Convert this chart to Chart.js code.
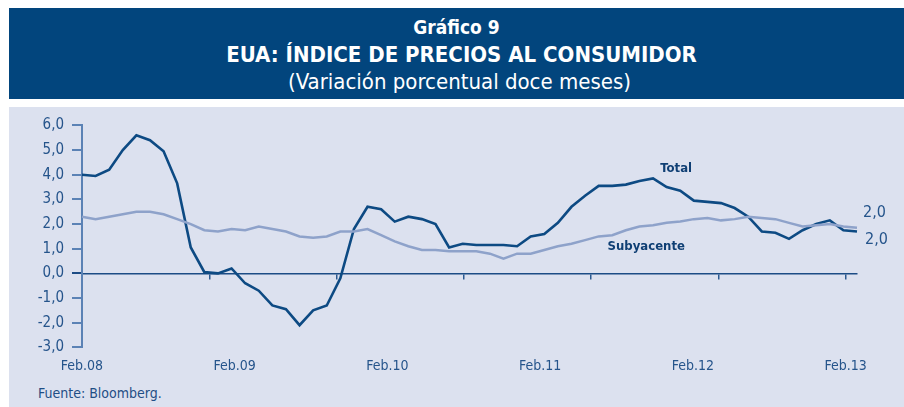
<!DOCTYPE html>
<html>
<head>
<meta charset="utf-8">
<script src="https://cdn.jsdelivr.net/npm/chart.js@4"></script>
<style>
  body { margin: 0; background: #fff; width: 904px; height: 407px; overflow: hidden; position: relative; }
  #head {
    position: absolute; left: 9px; top: 8px; width: 895px; height: 91px;
    background: #02457d; color: #fff; text-align: center;
    font-family: 'Liberation Sans Narrow', 'DejaVu Sans Condensed', sans-serif;
  }
  #head div { position: absolute; left: 0; right: 0; }
  #t1 { top: 8px; font-size: 19px; font-weight: bold; }
  #t2 { top: 34px; left: 10px !important; font-size: 22px; font-weight: bold; }
  #t3 { top: 61px; left: 6px !important; font-size: 22px; }
  #panel { position: absolute; left: 9px; top: 107px; width: 895px; height: 300px; background: #dce1ef; }
  #chartBox { position: absolute; left: 0; top: 0; width: 895px; height: 275px; }
  #src {
    position: absolute; left: 29px; top: 278px; color: #1f4e85; font-size: 14px;
    font-family: 'DejaVu Sans Condensed', sans-serif;
  }
</style>
</head>
<body>
<div id="head">
  <div id="t1">Gráfico 9</div>
  <div id="t2">EUA: ÍNDICE DE PRECIOS AL CONSUMIDOR</div>
  <div id="t3">(Variación porcentual doce meses)</div>
</div>
<div id="panel">
  <div id="chartBox"><canvas id="chart"></canvas></div>
  <div id="src">Fuente: Bloomberg.</div>
</div>
<script>
// months Mar.08 .. Dec.12
const months = [
  'Mar.08','Abr.08','May.08','Jun.08','Jul.08','Ago.08','Sep.08','Oct.08','Nov.08','Dic.08',
  'Ene.09','Feb.09','Mar.09','Abr.09','May.09','Jun.09','Jul.09','Ago.09','Sep.09','Oct.09','Nov.09','Dic.09',
  'Ene.10','Feb.10','Mar.10','Abr.10','May.10','Jun.10','Jul.10','Ago.10','Sep.10','Oct.10','Nov.10','Dic.10',
  'Ene.11','Feb.11','Mar.11','Abr.11','May.11','Jun.11','Jul.11','Ago.11','Sep.11','Oct.11','Nov.11','Dic.11',
  'Ene.12','Feb.12','Mar.12','Abr.12','May.12','Jun.12','Jul.12','Ago.12','Sep.12','Oct.12','Nov.12','Dic.12'
];

const totalValues = [
  4.0, 3.95, 4.2, 5.0, 5.6, 5.4, 4.95, 3.65, 1.05, 0.05,
  0.0, 0.2, -0.4, -0.7, -1.3, -1.45, -2.1, -1.5, -1.3, -0.2, 1.8, 2.7,
  2.6, 2.1, 2.3, 2.2, 2.0, 1.05, 1.2, 1.15, 1.15, 1.15, 1.1, 1.5,
  1.6, 2.05, 2.7, 3.15, 3.55, 3.55, 3.6, 3.75, 3.85, 3.5, 3.35, 2.95,
  2.9, 2.85, 2.65, 2.3, 1.7, 1.65, 1.4, 1.75, 2.0, 2.15, 1.75, 1.7
];

const coreValues = [
  2.3, 2.2, 2.3, 2.4, 2.5, 2.5, 2.4, 2.2, 2.0, 1.75,
  1.7, 1.8, 1.75, 1.9, 1.8, 1.7, 1.5, 1.45, 1.5, 1.7, 1.7, 1.8,
  1.55, 1.3, 1.1, 0.95, 0.95, 0.9, 0.9, 0.9, 0.8, 0.6, 0.8, 0.8,
  0.95, 1.1, 1.2, 1.35, 1.5, 1.55, 1.75, 1.9, 1.95, 2.05, 2.1, 2.2,
  2.25, 2.15, 2.2, 2.3, 2.25, 2.2, 2.05, 1.9, 1.95, 2.0, 1.9, 1.85
];

// bottom labels, one per 12 units of the label axis
const xTickLabels = ['Feb.08', 'Feb.09', 'Feb.10', 'Feb.11', 'Feb.12', 'Feb.13'];
const endLabels = ['2,0', '2,0'];

const dark = '#0d4a83';
const light = '#8ea2ca';
const textBlue = '#25548b';
const axisBlue = '#5b82b5';
const condensed = "'Liberation Sans Narrow', 'DejaVu Sans Condensed', sans-serif";
const labelMax = 60.9;

const notes = {
  id: 'notes',
  afterDatasetsDraw(chart) {
    const { ctx, chartArea } = chart;
    const x = chart.scales.x, y = chart.scales.y;
    ctx.save();
    ctx.fillStyle = '#0f3f74';
    ctx.font = "bold 13px 'DejaVu Sans Condensed', sans-serif";
    ctx.textAlign = 'center';
    ctx.textBaseline = 'middle';
    ctx.fillText('Total', x.getPixelForValue(43.7), y.getPixelForValue(4.26));
    ctx.fillText('Subyacente', x.getPixelForValue(41.5), y.getPixelForValue(1.07));
    ctx.fillStyle = textBlue;
    ctx.font = '16px ' + condensed;
    ctx.textAlign = 'left';
    ctx.fillText(endLabels[0], chartArea.right + 6, y.getPixelForValue(2.44));
    ctx.fillText(endLabels[1], chartArea.right + 8, y.getPixelForValue(1.35));
    ctx.restore();
  }
};

new Chart(document.getElementById('chart'), {
  type: 'line',
  data: {
    labels: months,
    datasets: [
      { label: 'Subyacente', data: coreValues, borderColor: light, borderWidth: 2.5, pointRadius: 0, tension: 0 },
      { label: 'Total', data: totalValues, borderColor: dark, borderWidth: 2.6, pointRadius: 0, tension: 0 }
    ]
  },
  options: {
    responsive: true,
    maintainAspectRatio: false,
    animation: false,
    layout: { padding: { left: 0, right: 47, top: 18.4, bottom: 0 } },
    plugins: { legend: { display: false }, tooltip: { enabled: false } },
    scales: {
      x: { type: 'category', display: false, offset: false },
      x2: {
        type: 'linear', position: 'bottom', min: 0, max: labelMax,
        grid: { display: false, drawTicks: false },
        border: { display: false },
        ticks: {
          stepSize: 12, includeBounds: false, autoSkip: false, maxRotation: 0, padding: 11,
          color: textBlue, font: { family: condensed, size: 14 },
          callback: v => (v % 12 === 0 ? xTickLabels[v / 12] : '')
        },
        afterFit: s => { s.height = 34.6; }
      },
      x3: {
        type: 'linear', position: { y: 0 }, min: 0, max: labelMax,
        grid: {
          drawOnChartArea: false, drawTicks: true, tickLength: 5, lineWidth: 1.5,
          color: c => (c.tick && c.tick.value % 10 === 0 ? '#2c5a91' : 'rgba(0,0,0,0)')
        },
        border: { display: true, color: '#1c4c85', width: 1.5 },
        ticks: { display: false, stepSize: 10, includeBounds: false, autoSkip: false },
        afterFit: s => { s.height = 0; }
      },
      y: {
        min: -3, max: 6,
        grid: {
          drawOnChartArea: false, drawTicks: true, tickLength: 10, lineWidth: 2,
          color: c => (c.tick && c.tick.value === 0 ? '#1c4c85' : axisBlue)
        },
        border: { display: true, color: axisBlue, width: 2 },
        ticks: {
          stepSize: 1, padding: 8, color: textBlue,
          font: { family: condensed, size: 15 },
          callback: v => v.toFixed(1).replace('.', ',')
        },
        afterFit: s => { s.width = 73; }
      }
    }
  },
  plugins: [notes]
});
</script>
</body>
</html>
